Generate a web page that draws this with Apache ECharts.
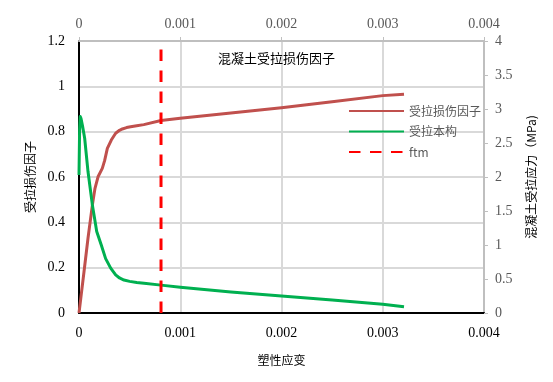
<!DOCTYPE html>
<html>
<head>
<meta charset="utf-8">
<script src="https://cdn.jsdelivr.net/npm/echarts@6/dist/echarts.min.js"></script>
<style>html,body{margin:0;padding:0;background:#fff;}#c{width:553px;height:382px;}</style>
</head>
<body>
<div id="c"></div>
<script>
// Damage factor (left axis) vs plastic strain
var strainDamage = [0, 0.0000165, 0.0000494, 0.0000889, 0.000132, 0.000158, 0.000188, 0.00023, 0.000253, 0.00028, 0.000319, 0.000362, 0.0004, 0.000428, 0.00047, 0.00051, 0.00057, 0.00064, 0.00081, 0.001, 0.0015, 0.002, 0.0025, 0.003, 0.00321];
var damage = [0, 0.06, 0.182, 0.33, 0.476, 0.55, 0.601, 0.638, 0.672, 0.726, 0.763, 0.793, 0.806, 0.812, 0.818, 0.822, 0.826, 0.831, 0.849, 0.859, 0.882, 0.906, 0.932, 0.959, 0.965];
// Tensile stress (right axis, MPa) vs plastic strain
var strainStress = [0, 0.000006, 0.000012, 0.00002, 0.000035, 0.000056, 0.0000889, 0.000132, 0.000175, 0.00022, 0.000263, 0.000313, 0.000362, 0.0004, 0.000444, 0.0005, 0.00057, 0.000642, 0.00081, 0.001, 0.0015, 0.002, 0.0025, 0.003, 0.00321];
var stress = [2.03, 2.7, 2.89, 2.86, 2.75, 2.57, 2.08, 1.59, 1.2, 1.0, 0.8, 0.66, 0.56, 0.515, 0.485, 0.465, 0.45, 0.437, 0.41, 0.38, 0.31, 0.25, 0.19, 0.13, 0.093];
// ftm vertical marker
var ftmStrain = [0.00081, 0.00081];
var ftmY = [0, 1.2];

var seriesNames = ['受拉损伤因子', '受拉本构', 'ftm'];
var titleText = '混凝土受拉损伤因子';
var xName = '塑性应变';
var yLeftName = '受拉损伤因子';
var yRightName = '混凝土受拉应力（MPa)';

function zip(a, b) { return a.map(function (v, i) { return [v, b[i]]; }); }

var serif = 'Liberation Serif';
var cjk = 'Noto Sans CJK SC';

var chart = echarts.init(document.getElementById('c'), null, {renderer: 'canvas'});
chart.setOption({
  animation: false,
  backgroundColor: '#fff',
  title: {
    text: titleText, left: 218, top: 52, padding: 0,
    textStyle: {fontFamily: cjk, fontSize: 13, fontWeight: 'normal', color: '#000'}
  },
  legend: {
    orient: 'vertical', left: 348, top: 105, padding: 0, itemWidth: 55, itemHeight: 14, itemGap: 8.5,
    data: seriesNames,
    itemStyle: {opacity: 0},
    textStyle: {fontFamily: cjk, fontSize: 12, color: '#595959'}
  },
  grid: {left: 79, right: 69, top: 41, bottom: 69},
  xAxis: [{
    type: 'value', position: 'bottom', min: 0, max: 0.004, interval: 0.001,
    name: xName, nameLocation: 'middle', nameGap: 41,
    nameTextStyle: {fontFamily: cjk, fontSize: 12, color: '#000'},
    axisLine: {show: true, onZero: false, lineStyle: {color: '#000', width: 2}},
    axisTick: {show: false},
    axisLabel: {fontFamily: serif, fontSize: 14, color: '#000', margin: 13},
    splitLine: {show: true, lineStyle: {color: '#d9d9d9', width: 2}}
  }, {
    type: 'value', position: 'top', min: 0, max: 0.004, interval: 0.001,
    axisLine: {show: true, onZero: false, lineStyle: {color: '#bfbfbf', width: 2}},
    axisTick: {show: true, length: 4, lineStyle: {color: '#bfbfbf', width: 1}},
    axisLabel: {fontFamily: serif, fontSize: 14, color: '#595959', margin: 10},
    splitLine: {show: false}
  }],
  yAxis: [{
    type: 'value', position: 'left', min: 0, max: 1.2, interval: 0.2,
    name: yLeftName, nameLocation: 'middle', nameGap: 40, nameRotate: 90,
    nameTextStyle: {fontFamily: cjk, fontSize: 12, color: '#000'},
    axisLine: {show: true, onZero: false, lineStyle: {color: '#000', width: 2}},
    axisTick: {show: false},
    axisLabel: {fontFamily: serif, fontSize: 14, color: '#000', margin: 14},
    splitLine: {show: true, lineStyle: {color: '#d9d9d9', width: 2}}
  }, {
    type: 'value', position: 'right', min: 0, max: 4, interval: 0.5,
    name: yRightName, nameLocation: 'middle', nameGap: 41, nameRotate: 90,
    nameTextStyle: {fontFamily: cjk, fontSize: 12, color: '#000'},
    axisLine: {show: true, onZero: false, lineStyle: {color: '#bfbfbf', width: 2}},
    axisTick: {show: true, length: 4, lineStyle: {color: '#bfbfbf', width: 1}},
    axisLabel: {fontFamily: serif, fontSize: 14, color: '#595959', margin: 11},
    splitLine: {show: false}
  }],
  series: [{
    name: seriesNames[0], type: 'line', xAxisIndex: 0, yAxisIndex: 0,
    data: zip(strainDamage, damage), showSymbol: false, symbol: 'none', smooth: false,
    lineStyle: {color: '#c0504d', width: 3, join: 'round'}, itemStyle: {color: '#c0504d'}
  }, {
    name: seriesNames[1], type: 'line', xAxisIndex: 0, yAxisIndex: 1,
    data: zip(strainStress, stress), showSymbol: false, symbol: 'none', smooth: false,
    lineStyle: {color: '#00b050', width: 3, join: 'round'}, itemStyle: {color: '#00b050'}
  }, {
    name: seriesNames[2], type: 'line', xAxisIndex: 0, yAxisIndex: 0,
    data: zip(ftmStrain, ftmY), showSymbol: false, symbol: 'none',
    lineStyle: {color: '#ff0000', width: 3, type: [11.5, 9.5]}, itemStyle: {color: '#ff0000'}
  }]
});
</script>
</body>
</html>
